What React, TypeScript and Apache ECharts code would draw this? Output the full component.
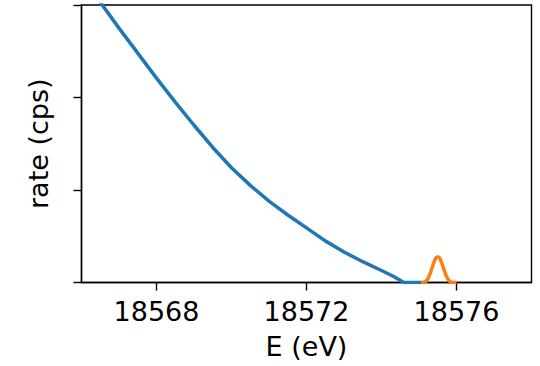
import React, { useEffect, useRef } from "react";
import * as echarts from "echarts";

const blueE = [18566.0, 18566.5, 18567.0, 18567.5, 18568.0, 18568.5, 18569.0, 18569.5, 18570.0, 18570.5, 18571.0, 18571.5, 18572.0, 18572.5, 18573.0, 18573.5, 18574.0, 18574.3, 18574.6, 18575.0, 18575.1];
const blueRate = [3.31, 3.03, 2.75, 2.48, 2.21, 1.95, 1.7, 1.46, 1.24, 1.05, 0.88, 0.73, 0.59, 0.45, 0.33, 0.225, 0.13, 0.07, 0.0, 0.0, 0.0];

const orangeE = [18575.05, 18575.1, 18575.15, 18575.2, 18575.25, 18575.3, 18575.35, 18575.4, 18575.45, 18575.5, 18575.55, 18575.6, 18575.65, 18575.7, 18575.75, 18575.8, 18575.85, 18575.9, 18575.95, 18576.0];
const orangeRate = [0, 0.001, 0.005, 0.019, 0.05, 0.1, 0.16, 0.22, 0.265, 0.28, 0.265, 0.22, 0.16, 0.1, 0.05, 0.019, 0.005, 0.001, 0, 0];

const xTicks = [18568, 18572, 18576];
const yTicks = [0, 1, 2, 3];

const FONT = "DejaVu Sans";

export default function App() {
  const ref = useRef<HTMLDivElement>(null);
  useEffect(() => {
    if (!ref.current) return;
    const chart = echarts.init(ref.current, null, { renderer: "svg" });
    chart.setOption({
      animation: false,
      backgroundColor: "#ffffff",
      grid: {
        left: 81.5,
        right: 8.5,
        top: 5,
        bottom: 83.5,
        show: true,
        borderColor: "#000",
        borderWidth: 1.4,
        backgroundColor: "transparent",
      },
      xAxis: {
        type: "value",
        min: 18566,
        max: 18578,
        name: "E (eV)",
        nameLocation: "middle",
        nameGap: 50,
        nameTextStyle: { fontFamily: FONT, fontSize: 27, color: "#000" },
        axisLine: { show: true, onZero: false, lineStyle: { color: "#000", width: 1.4 } },
        axisTick: { show: true, inside: false, length: 8, lineStyle: { color: "#000", width: 1.4 }, customValues: xTicks },
        axisLabel: {
          show: true,
          margin: 15,
          fontFamily: FONT,
          fontSize: 27,
          color: "#000",
          customValues: xTicks,
          formatter: (v: number) => String(v),
        },
        splitLine: { show: false },
      },
      yAxis: {
        type: "value",
        min: 0,
        max: 3,
        interval: 1,
        name: "rate (cps)",
        nameLocation: "middle",
        nameGap: 30,
        nameTextStyle: { fontFamily: FONT, fontSize: 27, color: "#000" },
        axisLine: { show: true, onZero: false, lineStyle: { color: "#000", width: 1.4 } },
        axisTick: { show: true, inside: false, length: 8, lineStyle: { color: "#000", width: 1.4 }, customValues: yTicks },
        axisLabel: { show: false },
        splitLine: { show: false },
      },
      series: [
        {
          type: "line",
          data: blueE.map((e, i) => [e, blueRate[i]]),
          showSymbol: false,
          smooth: false,
          lineStyle: { color: "#1f77b4", width: 3.5 },
          itemStyle: { color: "#1f77b4" },
          clip: true,
          z: 2,
        },
        {
          type: "line",
          data: orangeE.map((e, i) => [e, orangeRate[i]]),
          showSymbol: false,
          smooth: false,
          lineStyle: { color: "#ff7f0e", width: 3.5 },
          itemStyle: { color: "#ff7f0e" },
          clip: true,
          z: 3,
        },
      ],
    });
    return () => chart.dispose();
  }, []);
  return <div ref={ref} style={{ width: 540, height: 366, position: "absolute", left: 0, top: 0 }} />;
}
